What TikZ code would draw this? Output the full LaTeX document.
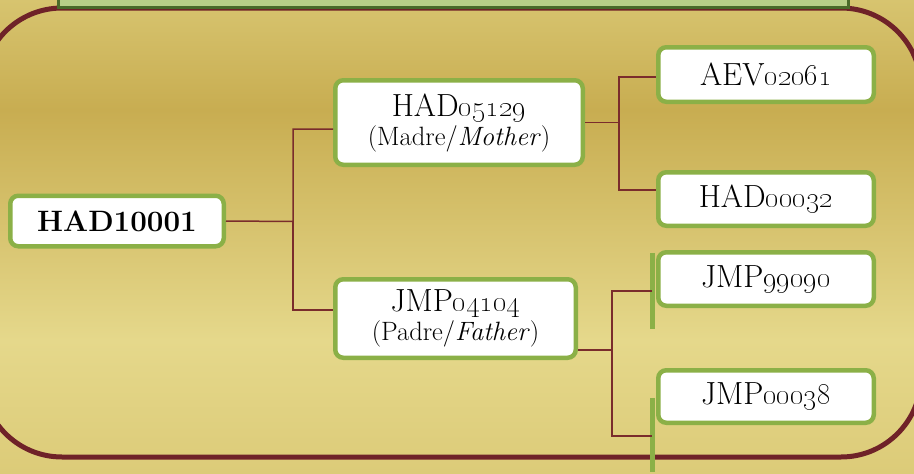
\documentclass[tikz,border=0pt]{standalone}
\usetikzlibrary{positioning,calc}

\definecolor{goldtop}{HTML}{D7C46F}
\definecolor{golddark}{HTML}{C8AD51}
\definecolor{goldlight}{HTML}{E5D88B}
\definecolor{goldbottom}{HTML}{DCCB78}
\definecolor{framered}{HTML}{6F2228}
\definecolor{kinred}{HTML}{7A2C2C}
\definecolor{leafgreen}{HTML}{8BB047}
\definecolor{barfill}{HTML}{B8CF88}
\definecolor{bargreen}{HTML}{4A6A2A}

\newcommand{\idnum}[2]{#1\oldstylenums{#2}}
\newcommand{\rolenote}[2]{{\fontsize{26.5}{30}\selectfont(#1/\textit{#2})}}

\begin{document}
\begin{tikzpicture}[
    x=1pt, y=-1pt,
    member/.style={rectangle, draw=leafgreen, fill=white, line width=4.5pt, rounded corners=8pt,
        align=center, inner sep=0pt, font=\fontsize{32}{33}\selectfont},
    kin/.style={draw=kinred, line width=1.5pt},
    stub/.style={draw=leafgreen, line width=5pt}
]
\useasboundingbox (0,0) rectangle (914,474);

% Background
\shade[top color=goldtop, bottom color=golddark] (0,0) rectangle (914,110);
\shade[top color=golddark, bottom color=goldlight] (0,110) rectangle (914,340);
\shade[top color=goldlight, bottom color=goldbottom] (0,340) rectangle (914,474);

% Frame
\draw[framered, line width=5pt, rounded corners=80pt] (-18,8) rectangle (921,457);
\draw[fill=barfill, draw=bargreen, line width=3pt] (58,-10) rectangle (848,7);

% Family
\node[member, minimum width=213.5pt, minimum height=50.5pt, font=\fontsize{29.5}{31}\selectfont\bfseries] (root) at (117,221) {HAD10001};

\node[member, minimum width=247.5pt, minimum height=84.5pt] (mom) at (459,122.5)
    {\idnum{HAD}{05129}\\[-4pt]\rolenote{Madre}{Mother}};
\node[member, minimum width=240.5pt, minimum height=78.5pt] (dad) at (455.5,318.5)
    {\idnum{JMP}{04104}\\[-4pt]\rolenote{Padre}{Father}};

\node[member, minimum width=215.5pt, minimum height=54.5pt] (momma) at (766,74.5) {\idnum{AEV}{02061}};
\node[member, minimum width=215.5pt, minimum height=53.5pt] (mompa) at (766,199) {\idnum{HAD}{00032}};
\node[member, minimum width=215.5pt, minimum height=53.5pt] (dadpa) at (766,279) {\idnum{JMP}{99090}};
\node[member, minimum width=215.5pt, minimum height=52.5pt] (dadma) at (766,396.5) {\idnum{JMP}{00038}};

% Green stubs
\draw[stub] ([xshift=-3.75pt, yshift=-2.75pt]dadpa.north west) coordinate (stubA) -- ++(0,76);
\draw[stub] ([xshift=-3.75pt, yshift=-29.75pt]dadma.north west) coordinate (stubB) -- ++(0,74);

% Links
\coordinate (rootfork) at (293,221.5);
\draw[kin] (root.east) -- (rootfork) |- ([yshift=-6.5pt]mom.west);
\draw[kin] (rootfork) |- ([yshift=8.5pt]dad.west);

\coordinate (momfork) at (619,122.5);
\draw[kin] (mom.east) -- (momfork) |- ([yshift=-2.5pt]momma.west);
\draw[kin] (momfork) |- ([yshift=9pt]mompa.west);

\coordinate (dadfork) at (612,350);
\draw[kin] ([yshift=-31.5pt]dad.east) -- (dadfork) |- ([yshift=-38pt]stubA);
\draw[kin] (dadfork) |- ([yshift=-38pt]stubB);

\end{tikzpicture}
\end{document}
